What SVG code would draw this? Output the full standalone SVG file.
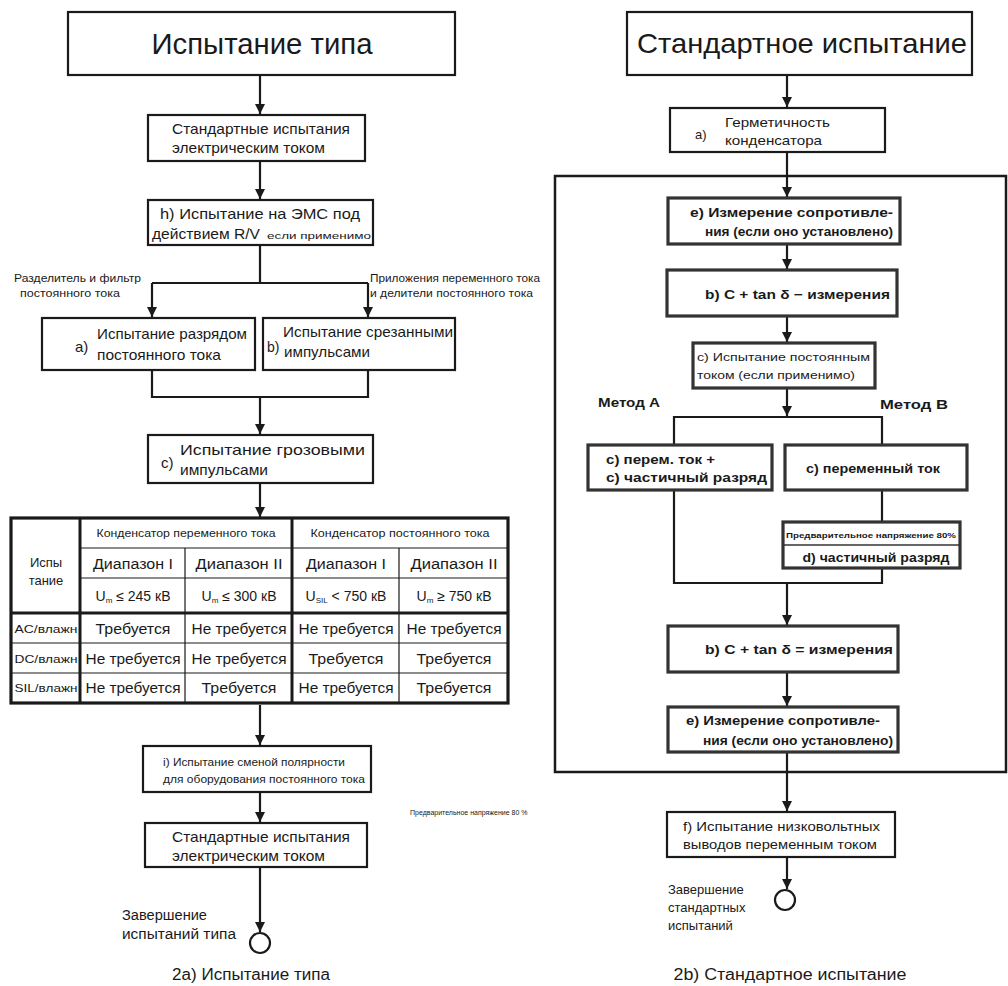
<svg xmlns="http://www.w3.org/2000/svg" width="1008" height="986" viewBox="0 0 1008 986">
<style>
text{font-family:"Liberation Sans",Arial,sans-serif;fill:#1a1a1a}
.box{fill:#fff;stroke:#1a1a1a;stroke-width:2.2}
.gbox{fill:#fff;stroke:#333;stroke-width:3.2}
.ln{fill:none;stroke:#1a1a1a;stroke-width:2.2}
.arr{fill:none;stroke:#1a1a1a;stroke-width:2.2;marker-end:url(#ah)}
.t16{font-size:16px}
.t15{font-size:15px}
.t14{font-size:14px}
.t13{font-size:13px}
.t12{font-size:12px}
.t11{font-size:11px}
.t10{font-size:10px}
.t9{font-size:9px}
.t7{font-size:7px}
.b{font-weight:bold}
.c{text-anchor:middle}
.tl{fill:none;stroke:#1a1a1a;stroke-width:1.2}
.tk{fill:none;stroke:#1a1a1a;stroke-width:3}
</style>
<defs>
<marker id="ah" viewBox="0 0 10 10" refX="10" refY="5" markerWidth="10" markerHeight="12" markerUnits="userSpaceOnUse" orient="auto">
<path d="M0,0 L10,5 L0,10 Z" fill="#1a1a1a"/>
</marker>
</defs>
<rect width="1008" height="986" fill="#fff"/>

<g id="connectors">
<path class="arr" d="M260,75 V114"/>
<path class="arr" d="M260,161 V199"/>
<path class="ln" d="M260,245 V283 M152,283 H368"/>
<path class="arr" d="M152,283 V317"/>
<path class="arr" d="M368,283 V317"/>
<path class="ln" d="M152,370 V397 H368 V370"/>
<path class="arr" d="M260,397 V434"/>
<path class="arr" d="M260,483 V517"/>
<path class="arr" d="M260,705 V745"/>
<path class="arr" d="M260,792 V822"/>
<path class="arr" d="M260,867 V932"/>

<path class="arr" d="M787,75 V107"/>
<path class="arr" d="M787,152 V197"/>
<path class="arr" d="M787,244 V269"/>
<path class="arr" d="M787,316 V342"/>
<path class="arr" d="M787,388 V416"/>
<path class="ln" d="M674,445 V417 H882 V445"/>
<path class="ln" d="M882,490 V522"/>
<path class="ln" d="M674,490 V583 H882 V568"/>
<path class="arr" d="M787,583 V625"/>
<path class="arr" d="M787,672 V706"/>
<path class="arr" d="M787,752 V811"/>
<path class="arr" d="M787,857 V889"/>
</g>

<g id="frame">
<rect x="555" y="176" width="451" height="596" fill="none" stroke="#1a1a1a" stroke-width="2.5"/>
</g>

<g id="title-left">
<rect class="box" x="68" y="12" width="387" height="63"/>
<text class="c" x="262" y="54" font-size="29" textLength="221" lengthAdjust="spacingAndGlyphs">Испытание типа</text>
</g>

<g id="std1">
<rect class="box" x="148" y="115" width="217" height="46"/>
<text class="t15" x="172" y="134" textLength="178" lengthAdjust="spacingAndGlyphs">Стандартные испытания</text>
<text class="t15" x="172" y="153" textLength="153" lengthAdjust="spacingAndGlyphs">электрическим током</text>
</g>

<g id="h-test">
<rect class="box" x="148" y="200" width="225" height="45"/>
<text class="t15" x="160" y="219" textLength="200" lengthAdjust="spacingAndGlyphs">h) Испытание на ЭМС под</text>
<text class="t15" x="152" y="239" textLength="108" lengthAdjust="spacingAndGlyphs">действием R/V</text>
<text class="t9" x="267" y="239" textLength="104" lengthAdjust="spacingAndGlyphs">если применимо</text>
</g>

<g id="label-left">
<text class="t11" x="14" y="282" textLength="127" lengthAdjust="spacingAndGlyphs">Разделитель и фильтр</text>
<text class="t11" x="20" y="297" textLength="100" lengthAdjust="spacingAndGlyphs">постоянного тока</text>
</g>
<g id="label-right">
<text class="t11" x="370" y="282" textLength="170" lengthAdjust="spacingAndGlyphs">Приложения переменного тока</text>
<text class="t11" x="370" y="297" textLength="163" lengthAdjust="spacingAndGlyphs">и делители постоянного тока</text>
</g>

<g id="a-test">
<rect class="box" x="42" y="318" width="213" height="52"/>
<text class="t15" x="75" y="352">a)</text>
<text class="t15" x="97" y="339" textLength="150" lengthAdjust="spacingAndGlyphs">Испытание разрядом</text>
<text class="t15" x="97" y="360" textLength="124" lengthAdjust="spacingAndGlyphs">постоянного тока</text>
</g>

<g id="b-test">
<rect class="box" x="263" y="318" width="192" height="52"/>
<text class="t14" x="267" y="352">b)</text>
<text class="t15" x="283" y="337" textLength="170" lengthAdjust="spacingAndGlyphs">Испытание срезанными</text>
<text class="t15" x="284" y="357" textLength="86" lengthAdjust="spacingAndGlyphs">импульсами</text>
</g>

<g id="c-test">
<rect class="box" x="148" y="435" width="225" height="48"/>
<text class="t15" x="161" y="468">c)</text>
<text class="t15" x="180" y="455" textLength="185" lengthAdjust="spacingAndGlyphs">Испытание грозовыми</text>
<text class="t15" x="180" y="475" textLength="88" lengthAdjust="spacingAndGlyphs">импульсами</text>
</g>

<g id="table">
<rect x="11" y="518" width="497" height="185" fill="#fff" stroke="#1a1a1a" stroke-width="3.2"/>
<path class="tl" d="M80,548 H508 M80,578 H508 M11,643 H508 M11,673 H508 M185,548 V703 M399,548 V703"/>
<path class="tk" d="M80,518 V703 M292,518 V703 M11,613 H508"/>
<text class="c t13" x="46" y="567">Испы</text>
<text class="c t13" x="46" y="585">тание</text>
<text class="c" font-size="10.5" x="186" y="537" textLength="179" lengthAdjust="spacingAndGlyphs">Конденсатор переменного тока</text>
<text class="c" font-size="10.5" x="400" y="537" textLength="179" lengthAdjust="spacingAndGlyphs">Конденсатор постоянного тока</text>
<text class="c t14" x="133" y="569" textLength="80" lengthAdjust="spacingAndGlyphs">Диапазон I</text>
<text class="c t14" x="239" y="569" textLength="87" lengthAdjust="spacingAndGlyphs">Диапазон II</text>
<text class="c t14" x="346" y="569" textLength="80" lengthAdjust="spacingAndGlyphs">Диапазон I</text>
<text class="c t14" x="454" y="569" textLength="87" lengthAdjust="spacingAndGlyphs">Диапазон II</text>
<text class="c t14" x="133" y="601">U<tspan font-size="8" dy="2">m</tspan><tspan dy="-2"> ≤ 245 кВ</tspan></text>
<text class="c t14" x="239" y="601">U<tspan font-size="8" dy="2">m</tspan><tspan dy="-2"> ≤ 300 кВ</tspan></text>
<text class="c t14" x="346" y="601">U<tspan font-size="8" dy="2">SIL</tspan><tspan dy="-2"> &lt; 750 кВ</tspan></text>
<text class="c t14" x="454" y="601">U<tspan font-size="8" dy="2">m</tspan><tspan dy="-2"> ≥ 750 кВ</tspan></text>
<text class="c" font-size="11.5" x="46" y="633" textLength="63" lengthAdjust="spacingAndGlyphs">AC/влажн</text>
<text class="c" font-size="11.5" x="46" y="663" textLength="63" lengthAdjust="spacingAndGlyphs">DC/влажн</text>
<text class="c" font-size="11.5" x="46" y="692" textLength="63" lengthAdjust="spacingAndGlyphs">SIL/влажн</text>
<text class="c t14" x="133" y="634" textLength="75" lengthAdjust="spacingAndGlyphs">Требуется</text>
<text class="c t14" x="239" y="634" textLength="95" lengthAdjust="spacingAndGlyphs">Не требуется</text>
<text class="c t14" x="346" y="634" textLength="95" lengthAdjust="spacingAndGlyphs">Не требуется</text>
<text class="c t14" x="454" y="634" textLength="95" lengthAdjust="spacingAndGlyphs">Не требуется</text>
<text class="c t14" x="133" y="664" textLength="95" lengthAdjust="spacingAndGlyphs">Не требуется</text>
<text class="c t14" x="239" y="664" textLength="95" lengthAdjust="spacingAndGlyphs">Не требуется</text>
<text class="c t14" x="346" y="664" textLength="75" lengthAdjust="spacingAndGlyphs">Требуется</text>
<text class="c t14" x="454" y="664" textLength="75" lengthAdjust="spacingAndGlyphs">Требуется</text>
<text class="c t14" x="133" y="693" textLength="95" lengthAdjust="spacingAndGlyphs">Не требуется</text>
<text class="c t14" x="239" y="693" textLength="75" lengthAdjust="spacingAndGlyphs">Требуется</text>
<text class="c t14" x="346" y="693" textLength="95" lengthAdjust="spacingAndGlyphs">Не требуется</text>
<text class="c t14" x="454" y="693" textLength="75" lengthAdjust="spacingAndGlyphs">Требуется</text>
</g>

<g id="i-test">
<rect class="box" x="143" y="746" width="228" height="46"/>
<text class="t11" x="163" y="766" textLength="182" lengthAdjust="spacingAndGlyphs">i) Испытание сменой полярности</text>
<text class="t11" x="163" y="783" textLength="202" lengthAdjust="spacingAndGlyphs">для оборудования постоянного тока</text>
</g>

<g id="std2">
<rect class="box" x="145" y="823" width="222" height="44"/>
<text class="t15" x="172" y="842" textLength="178" lengthAdjust="spacingAndGlyphs">Стандартные испытания</text>
<text class="t15" x="172" y="861" textLength="153" lengthAdjust="spacingAndGlyphs">электрическим током</text>
</g>

<g id="end-left">
<circle cx="260" cy="943" r="10" fill="#fff" stroke="#1a1a1a" stroke-width="2.2"/>
<text class="t14" x="122" y="920" textLength="85" lengthAdjust="spacingAndGlyphs">Завершение</text>
<text class="t14" x="122" y="939" textLength="114" lengthAdjust="spacingAndGlyphs">испытаний типа</text>
</g>

<g id="caption-left">
<text class="c t16" x="251" y="980" textLength="158" lengthAdjust="spacingAndGlyphs">2a) Испытание типа</text>
</g>

<g id="note-80">
<text class="t7" x="410" y="815">Предварительное напряжение 80 %</text>
</g>

<g id="title-right">
<rect class="box" x="627" y="12" width="345" height="63"/>
<text class="c" x="802" y="53" font-size="28" textLength="330" lengthAdjust="spacingAndGlyphs">Стандартное испытание</text>
</g>

<g id="a-seal">
<rect class="box" x="670" y="108" width="215" height="44"/>
<text class="t13" x="695" y="139">a)</text>
<text class="t13" x="725" y="127" textLength="105" lengthAdjust="spacingAndGlyphs">Герметичность</text>
<text class="t13" x="725" y="145" textLength="97" lengthAdjust="spacingAndGlyphs">конденсатора</text>
</g>

<g id="e-res1">
<rect class="gbox" x="668" y="198" width="232" height="46"/>
<text class="t12 b" x="690" y="217" textLength="203" lengthAdjust="spacingAndGlyphs">e)  Измерение сопротивле-</text>
<text class="t12 b" x="705" y="236" textLength="188" lengthAdjust="spacingAndGlyphs">ния (если оно установлено)</text>
</g>

<g id="b-ctan1">
<rect class="gbox" x="667" y="270" width="230" height="46"/>
<text class="t13 b" x="705" y="299" textLength="185" lengthAdjust="spacingAndGlyphs">b) C + tan δ − измерения</text>
</g>

<g id="c-dc">
<rect class="gbox" x="693" y="343" width="182" height="45"/>
<text class="t11" x="697" y="361" textLength="173" lengthAdjust="spacingAndGlyphs">c) Испытание постоянным</text>
<text class="t11" x="697" y="379" textLength="158" lengthAdjust="spacingAndGlyphs">током (если применимо)</text>
</g>

<g id="method-labels">
<text class="t13 b" x="598" y="407" textLength="62" lengthAdjust="spacingAndGlyphs">Метод А</text>
<text class="t13 b" x="880" y="409" textLength="68" lengthAdjust="spacingAndGlyphs">Метод В</text>
</g>

<g id="method-a">
<rect class="gbox" x="588" y="445" width="184" height="45"/>
<text class="t13 b" x="606" y="464" textLength="109" lengthAdjust="spacingAndGlyphs">c) перем. ток +</text>
<text class="t13 b" x="606" y="482" textLength="161" lengthAdjust="spacingAndGlyphs">c) частичный разряд</text>
</g>

<g id="method-b">
<rect class="gbox" x="785" y="445" width="182" height="45"/>
<text class="c t13 b" x="873" y="473" textLength="134" lengthAdjust="spacingAndGlyphs">c) переменный ток</text>
</g>

<g id="pd">
<rect class="gbox" x="783" y="522" width="177" height="46"/>
<line x1="783" y1="545" x2="960" y2="545" stroke="#333" stroke-width="1.5"/>
<text class="c b" font-size="7.5" x="871" y="538" textLength="170" lengthAdjust="spacingAndGlyphs">Предварительное напряжение 80%</text>
<text class="c t13 b" x="876" y="562" textLength="147" lengthAdjust="spacingAndGlyphs">d) частичный разряд</text>
</g>

<g id="b-ctan2">
<rect class="gbox" x="668" y="626" width="230" height="46"/>
<text class="t13 b" x="705" y="654" textLength="188" lengthAdjust="spacingAndGlyphs">b) C + tan δ = измерения</text>
</g>

<g id="e-res2">
<rect class="gbox" x="668" y="707" width="230" height="45"/>
<text class="t13 b" x="686" y="725" textLength="194" lengthAdjust="spacingAndGlyphs">e) Измерение сопротивле-</text>
<text class="t12 b" x="703" y="745" textLength="190" lengthAdjust="spacingAndGlyphs">ния (если оно установлено)</text>
</g>

<g id="f-lv">
<rect class="box" x="667" y="812" width="228" height="45"/>
<text class="t12" x="683" y="831" textLength="197" lengthAdjust="spacingAndGlyphs">f) Испытание низковольтных</text>
<text class="t12" x="683" y="849" textLength="194" lengthAdjust="spacingAndGlyphs">выводов переменным током</text>
</g>

<g id="end-right">
<circle cx="785" cy="900" r="10" fill="#fff" stroke="#1a1a1a" stroke-width="2.2"/>
<text class="t13" x="668" y="894">Завершение</text>
<text class="t13" x="668" y="912">стандартных</text>
<text class="t13" x="668" y="930">испытаний</text>
</g>

<g id="caption-right">
<text class="c t16" x="790" y="980" textLength="233" lengthAdjust="spacingAndGlyphs">2b) Стандартное испытание</text>
</g>
</svg>
